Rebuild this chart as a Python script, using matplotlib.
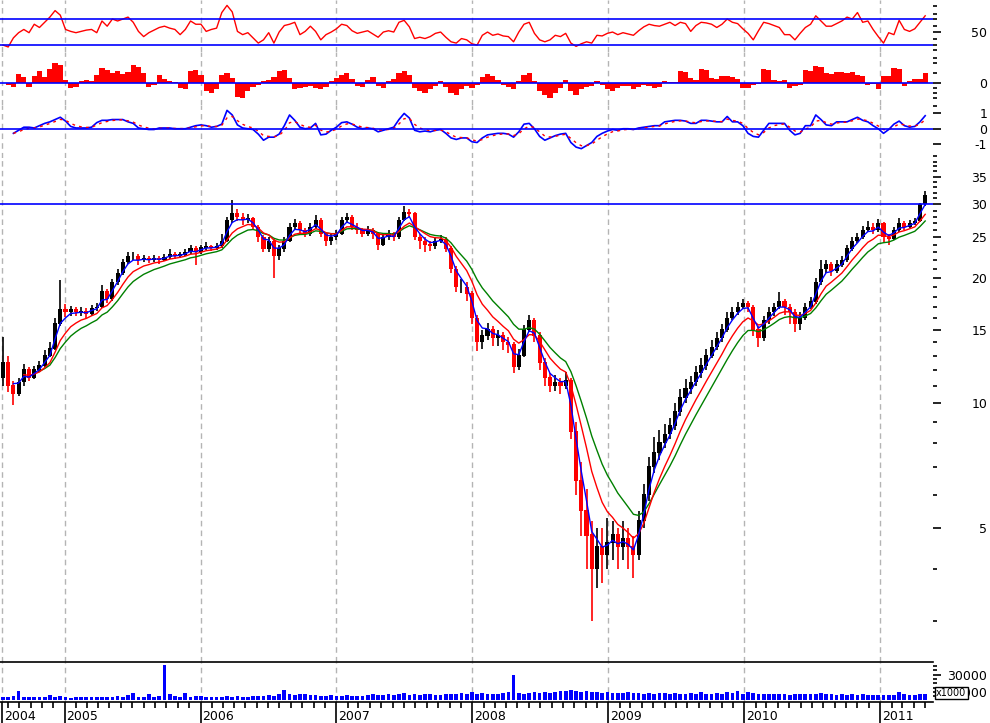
import matplotlib
matplotlib.use("Agg")
import matplotlib.pyplot as plt
from matplotlib.ticker import FixedLocator, FixedFormatter, NullFormatter
import matplotlib.dates as mdates
import numpy as np
import pandas as pd

# two-week bars
dates = pd.date_range("2004-07-19", periods=178, freq="14D")
first_open = 11.5
closes = [12.5, 11.0, 10.5, 11.2, 12.0, 11.5, 12.0, 12.3, 13.0, 13.5,
          15.5, 16.8, 16.5, 16.8, 16.5, 16.6, 16.4, 16.9, 17.0, 18.5,
          17.8, 19.5, 20.5, 21.8, 22.5, 22.5, 22.0, 22.3, 22.0, 22.3,
          22.1, 22.4, 22.8, 22.6, 22.7, 23.0, 23.5, 23.0, 23.6, 23.8,
          23.6, 23.8, 24.5, 27.5, 28.5, 28.0, 27.5, 27.8, 26.5, 25.0,
          23.5, 24.5, 22.5, 23.5, 24.5, 26.5, 27.0, 26.0, 25.5, 26.5,
          27.5, 25.5, 24.5, 25.0, 25.5, 27.5, 28.0, 26.5, 26.0, 25.5,
          26.0, 25.5, 24.0, 25.0, 25.5, 25.0, 27.5, 28.8, 28.5, 25.0,
          24.5, 24.0, 23.8, 24.5, 24.8, 23.5, 21.0, 19.0, 19.0, 18.3,
          16.0, 14.0, 14.5, 15.0, 14.3, 14.5, 14.0, 13.8, 12.2, 13.0,
          15.0, 15.8, 14.5, 12.5, 11.5, 11.0, 11.2, 11.0, 11.3, 8.5,
          6.5, 5.5, 4.8, 4.0, 4.5, 4.3, 4.6, 4.8, 4.5, 4.7,
          4.5, 4.3, 5.2, 6.0, 7.0, 7.6, 8.0, 8.4, 8.8, 9.5,
          10.3, 10.8, 11.2, 11.8, 12.3, 13.0, 13.6, 14.3, 15.0, 16.0,
          16.5, 17.0, 17.3, 17.0, 15.0, 14.3, 15.8, 16.5, 17.0, 17.5,
          17.0, 16.5, 15.5, 16.0, 17.0, 17.5, 19.5, 21.0, 21.5, 20.8,
          21.5, 22.0, 23.5, 24.5, 25.0, 26.0, 26.5, 26.0, 27.0, 25.0,
          24.8, 26.0, 27.0, 26.5, 27.0, 27.3, 30.0, 31.5]
highs = [14.4, 13.0, 11.3, 11.5, 12.4, 12.2, 12.3, 12.6, 13.4, 14.0,
         16.0, 19.7, 17.3, 17.1, 17.0, 17.0, 16.9, 17.2, 17.4, 19.2,
         18.8, 19.9, 21.0, 22.2, 23.0, 23.0, 22.8, 22.7, 22.6, 22.7,
         22.6, 22.8, 23.4, 23.0, 23.1, 23.5, 24.0, 23.8, 24.0, 24.3,
         24.0, 24.2, 25.5, 28.0, 30.7, 29.3, 28.6, 28.5, 28.0, 26.8,
         25.3, 25.0, 24.8, 24.0, 25.0, 27.0, 27.6, 27.3, 26.3, 27.0,
         28.3, 27.8, 25.8, 25.5, 26.0, 28.0, 28.6, 28.3, 27.0, 26.3,
         26.6, 26.3, 25.8, 25.4, 26.0, 25.8, 28.0, 29.8, 29.3, 28.7,
         25.5, 25.0, 24.5, 25.0, 25.3, 25.0, 23.8, 21.3, 19.8, 19.5,
         18.6, 16.3, 15.0, 15.6, 15.3, 15.0, 14.8, 14.4, 14.0, 13.5,
         15.4, 16.3, 16.0, 14.8, 12.8, 11.8, 11.7, 11.5, 11.9, 11.5,
         9.0, 7.2, 6.2, 5.2, 5.0, 5.0, 5.3, 5.2, 5.0, 5.2,
         5.0, 4.8, 5.5, 6.4, 7.4, 8.3, 8.6, 8.9, 9.2, 10.0,
         10.8, 11.4, 11.6, 12.3, 12.8, 13.5, 14.2, 14.8, 15.5, 16.5,
         17.0, 17.5, 17.8, 17.6, 17.2, 15.3, 16.2, 17.0, 17.4, 18.5,
         17.8, 17.3, 16.8, 16.5, 17.4, 18.0, 20.0, 22.0, 22.0, 21.8,
         22.0, 22.6, 24.0, 25.0, 25.6, 26.6, 27.3, 27.0, 27.6, 27.2,
         25.5, 26.4, 27.8, 27.3, 27.5, 27.8, 30.3, 32.3]
lows = [11.0, 10.6, 9.9, 10.4, 11.0, 11.3, 11.4, 11.9, 12.2, 12.9,
        13.4, 15.3, 16.1, 16.2, 16.2, 16.2, 15.9, 16.2, 16.6, 16.9,
        17.4, 17.6, 19.2, 20.3, 21.6, 22.0, 21.5, 21.8, 21.7, 21.8,
        21.6, 21.9, 22.2, 22.2, 22.3, 22.5, 22.8, 21.5, 22.8, 23.3,
        23.2, 23.3, 23.6, 24.3, 27.0, 27.3, 26.8, 27.0, 26.0, 24.3,
        23.0, 23.0, 20.0, 22.0, 23.0, 24.3, 26.0, 25.5, 25.0, 25.2,
        26.2, 25.0, 23.8, 24.0, 24.7, 25.3, 27.0, 26.0, 25.5, 25.0,
        25.2, 24.8, 23.3, 23.8, 24.7, 24.5, 24.8, 27.3, 28.0, 24.6,
        23.5, 23.0, 23.2, 23.5, 24.2, 23.0, 20.5, 18.5, 18.4, 17.6,
        15.5, 13.3, 13.5, 14.2, 13.7, 13.7, 13.4, 13.2, 11.8, 12.0,
        12.9, 14.8, 14.0, 12.0, 11.0, 10.6, 10.7, 10.5, 10.8, 8.2,
        6.0, 4.8, 4.0, 3.0, 3.6, 3.7, 4.0, 4.2, 4.0, 4.2,
        4.0, 3.8, 4.2, 5.0, 5.8, 6.8, 7.3, 7.8, 8.2, 8.6,
        9.3, 10.0, 10.5, 11.0, 11.5, 12.0, 12.8, 13.4, 14.0, 14.8,
        15.8, 16.3, 16.8, 16.5, 14.5, 13.6, 14.1, 15.5, 16.2, 16.8,
        16.3, 15.5, 14.8, 15.0, 15.8, 16.8, 17.3, 19.2, 20.5, 20.2,
        20.5, 21.2, 21.8, 23.2, 24.2, 24.8, 25.8, 25.5, 25.8, 24.2,
        24.0, 24.6, 25.8, 26.0, 26.3, 26.8, 27.2, 29.8]
volume = [4000, 3500, 5000, 10500, 3500, 3500, 4000, 3500, 4000, 6500,
          4500, 5000, 3500, 3000, 3500, 3500, 4000, 3500, 3500, 3500,
          4500, 4000, 5500, 4500, 6000, 9000, 4500, 4000, 8000, 4500,
          5000, 41500, 8000, 5000, 4500, 9000, 4000, 5000, 5000, 4500,
          4000, 4500, 4000, 5000, 4500, 5500, 4500, 4500, 5000, 5000,
          5500, 6000, 5500, 7000, 12000, 7000, 6500, 7000, 8000, 6500,
          6000, 5000, 5000, 6000, 5500, 5500, 6000, 5000, 5500, 5500,
          6000, 8000, 6000, 6000, 7000, 6000, 7500, 9000, 6500, 7000,
          6500, 7000, 7000, 6000, 6500, 7000, 8000, 8000, 9000, 8000,
          9500, 8000, 8500, 8000, 7500, 8000, 9000, 9500, 30000, 9000,
          8000, 8500, 9500, 9000, 10000, 9000, 10000, 10500, 11000, 12000,
          11000, 10000, 10500, 9500, 10000, 9000, 9500, 9000, 9000, 8500,
          9500, 8500, 9000, 8000, 8500, 8000, 8500, 9000, 8000, 8500,
          8000, 7500, 9000, 8000, 10000, 8000, 7500, 8500, 8000, 9500,
          9000, 11000, 8000, 10000, 9000, 7500, 7000, 7000, 8000, 7000,
          7500, 6500, 7000, 7000, 7500, 7000, 7000, 9000, 7000, 7500,
          6500, 7000, 6500, 7000, 6500, 7000, 6500, 6000, 6000, 6500,
          6000, 6500, 10000, 7000, 6500, 6000, 7000, 7500]
hist = [0, -2, -4, 9, 6, -4, 7, 12, 6, 14,
        20, 18, 3, -5, -4, 2, 3, 2, 8, 15,
        13, 10, 12, 9, 11, 18, 16, 10, -4, -2,
        8, 4, 2, 1, -5, -6, 12, 13, 8, -8,
        -10, -6, 8, 10, 5, -14, -15, -8, -4, -2,
        2, 3, 6, 12, 13, 5, -6, -5, -4, -3,
        -5, -6, -4, 2, 5, 8, 10, 4, -3, -4,
        3, 6, -3, -5, 2, 4, 10, 12, 8, -5,
        -8, -10, -6, -3, 2, -4, -10, -12, -6, -3,
        -5, -2, 6, 9, 7, 3, -2, -4, -6, 2,
        8, 10, 2, -8, -12, -15, -10, -5, 3, -8,
        -12, -6, -4, -3, 2, -2, -6, -8, -5, -3,
        -3, -6, -4, -2, -3, -5, -4, 2, 1, 1,
        12, 11, 5, 3, 14, 13, 5, 4, 7, 7,
        6, 4, -5, -5, -2, -1, 14, 13, 3, 2,
        3, -5, -3, -2, 13, 12, 17, 16, 10, 9,
        11, 11, 10, 11, 8, 7, -2, -1, -6, 7,
        7, 15, 14, -3, 2, 4, 4, 10]
macd = [np.nan, np.nan, -0.3, -0.1, 0.1, 0.1, 0.05, 0.2, 0.35, 0.45,
        0.6, 0.75, 0.5, 0.15, 0.05, 0.05, 0.05, 0.1, 0.4, 0.55,
        0.55, 0.6, 0.6, 0.6, 0.45, 0.35, 0.05, 0.0, -0.05, -0.05,
        0.05, 0.05, 0.05, 0.0, 0.0, 0.0, 0.1, 0.2, 0.25, 0.2,
        0.1, 0.15, 0.3, 1.2, 0.9, 0.25, 0.05, 0.0, -0.05, -0.35,
        -0.75, -0.55, -0.55, -0.35, 0.2, 0.9, 0.55, 0.1, 0.0, 0.05,
        0.35, -0.4, -0.35, -0.1, 0.1, 0.4, 0.45, 0.3, 0.1, 0.0,
        0.05, 0.0, -0.2, -0.1, 0.0, 0.1, 0.6, 1.0, 0.7, -0.1,
        -0.2, -0.15, -0.2, -0.1, -0.05, -0.3, -0.6, -0.7, -0.6, -0.6,
        -0.85, -0.9, -0.6, -0.4, -0.35, -0.3, -0.3, -0.35, -0.55, -0.2,
        0.3, 0.35, 0.0, -0.5, -0.75, -0.6, -0.45, -0.35, -0.3, -0.9,
        -1.2, -1.3, -1.1, -0.9, -0.5, -0.3, -0.15, -0.05, -0.1, 0.0,
        0.0, -0.05, 0.05, 0.1, 0.15, 0.2, 0.2, 0.45, 0.5, 0.55,
        0.55, 0.5, 0.35, 0.35, 0.55, 0.55, 0.5, 0.45, 0.45, 0.8,
        0.45, 0.45, 0.2, -0.3, -0.5, -0.55, -0.1, 0.35, 0.35, 0.35,
        0.35, -0.1, -0.4, -0.3, 0.2, 0.2, 0.9, 0.6, 0.25, 0.2,
        0.45, 0.45, 0.45, 0.6, 0.75, 0.55, 0.45, 0.2, 0.0, -0.3,
        -0.05, 0.3, 0.5, 0.2, 0.1, 0.15, 0.45, 0.85]
rsi = [30, 27, 41, 49, 54, 49, 62, 57, 65, 73,
       83, 76, 54, 51, 49, 51, 53, 54, 49, 67,
       59, 70, 67, 70, 73, 65, 51, 43, 49, 53,
       57, 59, 56, 54, 46, 54, 67, 62, 62, 51,
       54, 56, 80, 91, 81, 51, 46, 49, 41, 33,
       38, 49, 33, 50, 60, 62, 65, 46, 51, 59,
       51, 38, 46, 50, 55, 62, 60, 52, 48, 50,
       52, 47, 42, 50, 52, 50, 65, 68, 58, 40,
       42, 40, 43, 48, 50, 42, 35, 33, 40, 38,
       32, 30, 45, 50, 45, 47, 44, 43, 35, 50,
       62, 65, 48, 38, 35, 38, 45, 43, 48, 33,
       28, 32, 35, 33, 45, 44, 48, 50, 46, 49,
       47, 45, 52, 58, 62, 60, 59, 62, 65, 60,
       65, 63, 51, 60, 65, 64, 62, 57, 62, 70,
       65, 63, 55, 48, 38, 52, 65, 63, 60, 57,
       46, 46, 38, 48, 57, 62, 75, 67, 59, 59,
       63, 67, 73, 70, 80, 65, 67, 54, 43, 33,
       49, 46, 68, 54, 51, 55, 65, 75]

year_marks = pd.to_datetime(["2004-07-17", "2005-01-01", "2006-01-01", "2007-01-01",
                             "2008-01-01", "2009-01-01", "2010-01-01", "2011-01-01"])
year_labels = ["2004", "2005", "2006", "2007", "2008", "2009", "2010", "2011"]

opens = [first_open] + closes[:-1]
s = pd.Series(closes, index=dates)
ma_blue = s.ewm(span=3, adjust=False).mean()
ma_red = s.ewm(span=7, adjust=False).mean()
ma_green = s.ewm(span=11, adjust=False).mean()
ma_blue[:2] = np.nan
ma_red[:4] = np.nan
ma_green[:7] = np.nan
signal = pd.Series(macd, index=dates).ewm(span=3, adjust=False, ignore_na=True).mean()

W, H = 990, 723
fig = plt.figure(figsize=(W / 100, H / 100), dpi=100)
fig.patch.set_facecolor("white")


def panel(top, bottom):
    return fig.add_axes([0, 1 - bottom / H, 933 / W, (bottom - top) / H])


ax_rsi = panel(0, 52)
ax_hist = panel(52, 105)
ax_macd = panel(105, 158)
ax_price = panel(158, 662)
ax_vol = panel(662, 702)
axes = [ax_rsi, ax_hist, ax_macd, ax_price, ax_vol]

xmin, xmax = pd.Timestamp("2004-07-11"), pd.Timestamp("2011-05-23")
blue, red, green = "#0000ff", "#ff0000", "#008000"

for ax in axes:
    ax.set_xlim(xmin, xmax)
    for sp in ax.spines.values():
        sp.set_visible(False)
    ax.yaxis.tick_right()
    ax.tick_params(axis="y", which="major", length=6, width=1.2, pad=33, labelsize=9, colors="black")
    ax.tick_params(axis="y", which="minor", length=3, width=1.2)
    ax.tick_params(axis="x", which="both", bottom=False, labelbottom=False)
    for d in year_marks:
        ax.axvline(d, color="#b4b4b4", lw=1, ls=(0, (4, 3)), zorder=0)

# RSI
ax_rsi.plot(dates, rsi, color=red, lw=1)
ax_rsi.axhline(70, color=blue, lw=1.2)
ax_rsi.axhline(30, color=blue, lw=1.2)
ax_rsi.set_ylim(19.3, 99.3)
ax_rsi.yaxis.set_major_locator(FixedLocator([50]))
ax_rsi.yaxis.set_minor_locator(FixedLocator([22, 30, 40, 60, 70, 78, 90]))

# histogram
ax_hist.bar(dates, hist, width=14, color=red, linewidth=0)
ax_hist.axhline(0, color=blue, lw=1.2)
ax_hist.set_ylim(-21.7, 31)
ax_hist.yaxis.set_major_locator(FixedLocator([0]))
ax_hist.yaxis.set_minor_locator(FixedLocator([-15, -10, -5, 10, 20, 25]))

# MACD
ax_macd.plot(dates, macd, color=blue, lw=1.2)
ax_macd.plot(dates, signal, color=red, lw=1, ls=(0, (2, 3)))
ax_macd.axhline(0, color=blue, lw=1.2)
ax_macd.set_ylim(-1.91, 1.55)
ax_macd.yaxis.set_major_locator(FixedLocator([-1, 0, 1]))
ax_macd.yaxis.set_major_formatter(FixedFormatter(["-1", "0", "1"]))
ax_macd.yaxis.set_minor_locator(FixedLocator([-1.8, 1.5]))

# price
o = np.array(opens)
c = np.array(closes)
up = c >= o
body_lo = np.minimum(o, c)
body_h = np.abs(c - o) + 0.04
ax_price.vlines(dates, lows, highs, colors=np.where(up, "black", red), lw=1.2)
ax_price.bar(dates, body_h, bottom=body_lo, width=11, color=np.where(up, "black", red), linewidth=0)
ax_price.plot(dates, ma_green, color=green, lw=1)
ax_price.plot(dates, ma_red, color=red, lw=1)
ax_price.plot(dates, ma_blue, color=blue, lw=1)
ax_price.axhline(30, color=blue, lw=1.2)
ax_price.set_yscale("log")
ax_price.set_ylim(2.385, 38.78)
majors = [5, 10, 15, 20, 25, 30, 35]
ax_price.yaxis.set_major_locator(FixedLocator(majors))
ax_price.yaxis.set_major_formatter(FixedFormatter([str(m) for m in majors]))
ax_price.yaxis.set_minor_locator(FixedLocator([v for v in range(3, 39) if v not in majors]))
ax_price.yaxis.set_minor_formatter(NullFormatter())

# volume
ax_vol.bar(dates, volume, width=10, color=blue, linewidth=0)
ax_vol.set_ylim(-1760, 44700)
ax_vol.spines["top"].set_visible(True)
ax_vol.spines["bottom"].set_visible(True)
ax_vol.spines["top"].set_linewidth(1.2)
ax_vol.spines["bottom"].set_linewidth(1.2)
ax_vol.yaxis.set_major_locator(FixedLocator([10000, 30000]))
ax_vol.yaxis.set_major_formatter(FixedFormatter(["10000", "30000"]))
ax_vol.yaxis.set_minor_locator(FixedLocator([5000, 15000, 20000, 25000, 35000, 40000]))
ax_vol.xaxis.set_major_locator(FixedLocator(mdates.date2num(year_marks)))
ax_vol.xaxis.set_minor_locator(mdates.MonthLocator())
ax_vol.tick_params(axis="x", which="major", bottom=True, length=15, width=1.2, direction="out")
ax_vol.tick_params(axis="x", which="minor", bottom=True, length=4, width=1.2, direction="out")
for d, lab in zip(year_marks, year_labels):
    ax_vol.text(d + pd.Timedelta(days=5), -0.35, lab, transform=ax_vol.get_xaxis_transform(),
                fontsize=9, va="center", ha="left")

for ax in axes:
    for lbl in ax.get_yticklabels():
        lbl.set_horizontalalignment("right")

fig.text(936 / W, 1 - 693 / H, "x1000", fontsize=7, va="center", ha="left",
         bbox=dict(boxstyle="square,pad=0.15", facecolor="white", edgecolor="black", lw=1))

fig.savefig("out.png", dpi=100)
